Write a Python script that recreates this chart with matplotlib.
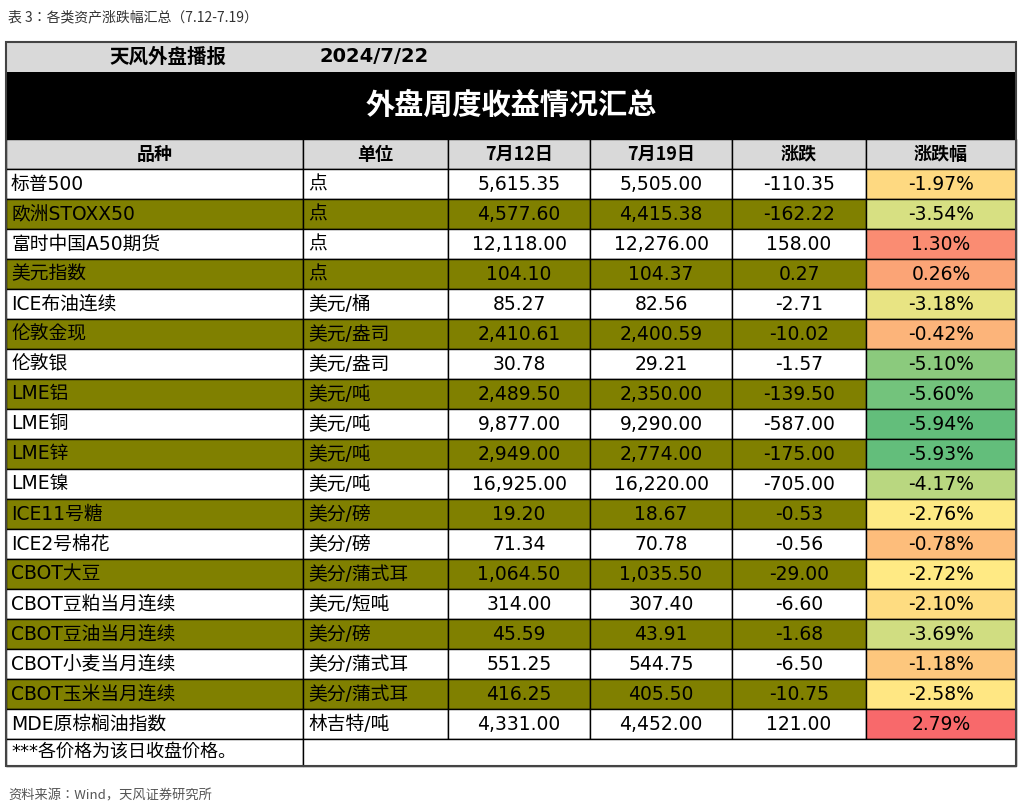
import matplotlib
matplotlib.use("Agg")
import matplotlib.pyplot as plt
from matplotlib import font_manager
from matplotlib.colors import LinearSegmentedColormap, TwoSlopeNorm
import numpy as np

names = ["标普500","欧洲STOXX50","富时中国A50期货","美元指数","ICE布油连续","伦敦金现","伦敦银","LME铝","LME铜","LME锌","LME镍","ICE11号糖","ICE2号棉花","CBOT大豆","CBOT豆粕当月连续","CBOT豆油当月连续","CBOT小麦当月连续","CBOT玉米当月连续","MDE原棕榈油指数"]
units = ["点","点","点","点","美元/桶","美元/盎司","美元/盎司","美元/吨","美元/吨","美元/吨","美元/吨","美分/磅","美分/磅","美分/蒲式耳","美元/短吨","美分/磅","美分/蒲式耳","美分/蒲式耳","林吉特/吨"]
p712 = [5615.35,4577.60,12118.00,104.10,85.27,2410.61,30.78,2489.50,9877.00,2949.00,16925.00,19.20,71.34,1064.50,314.00,45.59,551.25,416.25,4331.00]
p719 = [5505.00,4415.38,12276.00,104.37,82.56,2400.59,29.21,2350.00,9290.00,2774.00,16220.00,18.67,70.78,1035.50,307.40,43.91,544.75,405.50,4452.00]
chg = [-110.35,-162.22,158.00,0.27,-2.71,-10.02,-1.57,-139.50,-587.00,-175.00,-705.00,-0.53,-0.56,-29.00,-6.60,-1.68,-6.50,-10.75,121.00]
pct = [-1.97,-3.54,1.30,0.26,-3.18,-0.42,-5.10,-5.60,-5.94,-5.93,-4.17,-2.76,-0.78,-2.72,-2.10,-3.69,-1.18,-2.58,2.79]
headers = ["品种","单位","7月12日","7月19日","涨跌","涨跌幅"]

# locate an installed CJK font
cjk = None
avail = {f.name for f in font_manager.fontManager.ttflist}
for cand in ["Noto Sans CJK SC", "Noto Sans CJK JP", "Noto Sans CJK TC", "Noto Sans CJK KR", "Noto Sans SC"]:
    if cand in avail:
        cjk = cand; break
if cjk is None:
    for f in font_manager.fontManager.ttflist:
        if "CJK" in f.name or "CJK" in f.fname:
            cjk = f.name; break
if cjk is None:
    import glob
    for p in glob.glob("/usr/share/fonts/**/*CJK*", recursive=True):
        try:
            font_manager.fontManager.addfont(p)
            cjk = font_manager.FontProperties(fname=p).get_name(); break
        except Exception:
            pass
if cjk is None:
    cjk = "DejaVu Sans"

plt.rcParams["font.family"] = ["DejaVu Sans", cjk]
fig = plt.figure(figsize=(10.22, 8.08), dpi=100)
ax = fig.add_axes([0, 0, 1, 1])
ax.set_xlim(0, 1022); ax.set_ylim(808, 0); ax.axis("off")

cols = [6, 303, 448, 590, 732, 866, 1016]
cmap = LinearSegmentedColormap.from_list("x", ["#63BE7B", "#FFEB84", "#F8696B"])
norm = TwoSlopeNorm(vmin=min(pct), vcenter=float(np.median(pct)), vmax=max(pct))
olive = "#808000"

def rect(x0, y0, x1, y1, fc, lw=1.0, ec="black"):
    ax.add_patch(plt.Rectangle((x0, y0), x1 - x0, y1 - y0, facecolor=fc, edgecolor=ec, lw=lw))

ax.text(8, 17, "表 3：各类资产涨跌幅汇总（7.12-7.19）", fontsize=10, family=cjk, va="center", color="#333333")
rect(6, 42, 1016, 72, "#D9D9D9", lw=0)
ax.text(168, 57, "天风外盘播报", fontsize=14, family=cjk, weight="bold", ha="center", va="center")
ax.text(374, 57, "2024/7/22", fontsize=14, weight="bold", ha="center", va="center")
rect(6, 72, 1016, 139, "black", lw=0)
ax.text(511, 105, "外盘周度收益情况汇总", fontsize=21, family=cjk, weight="bold", ha="center", va="center", color="white")
for j, h in enumerate(headers):
    rect(cols[j], 139, cols[j+1], 169, "#D9D9D9")
    ax.text((cols[j]+cols[j+1])/2, 154, h, fontsize=13, family=cjk, weight="bold", ha="center", va="center")

fs = 13.5
for i in range(len(names)):
    y0 = 169 + 30*i; y1 = y0 + 30; yc = (y0+y1)/2
    fc = olive if i % 2 == 1 else "white"
    for j in range(5):
        rect(cols[j], y0, cols[j+1], y1, fc)
    rect(cols[5], y0, cols[6], y1, cmap(norm(pct[i])))
    ax.text(cols[0]+5, yc, names[i], fontsize=fs, va="center")
    ax.text(cols[1]+5, yc, units[i], fontsize=fs, va="center")
    ax.text((cols[2]+cols[3])/2, yc, f"{p712[i]:,.2f}", fontsize=fs, ha="center", va="center")
    ax.text((cols[3]+cols[4])/2, yc, f"{p719[i]:,.2f}", fontsize=fs, ha="center", va="center")
    ax.text((cols[4]+cols[5])/2, yc, f"{chg[i]:.2f}", fontsize=fs, ha="center", va="center")
    ax.text((cols[5]+cols[6])/2, yc, f"{pct[i]:.2f}%", fontsize=fs, ha="center", va="center")
rect(6, 739, 303, 766, "white")
rect(303, 739, 1016, 766, "white")
ax.text(11, 752, "***各价格为该日收盘价格。", fontsize=13, va="center")
rect(6, 42, 1016, 766, "none", lw=1.5, ec="#444444")
ax.text(8, 796, "资料来源：Wind，天风证券研究所", fontsize=9.5, family=cjk, va="center", color="#555555")
fig.savefig("out.png", dpi=100)
